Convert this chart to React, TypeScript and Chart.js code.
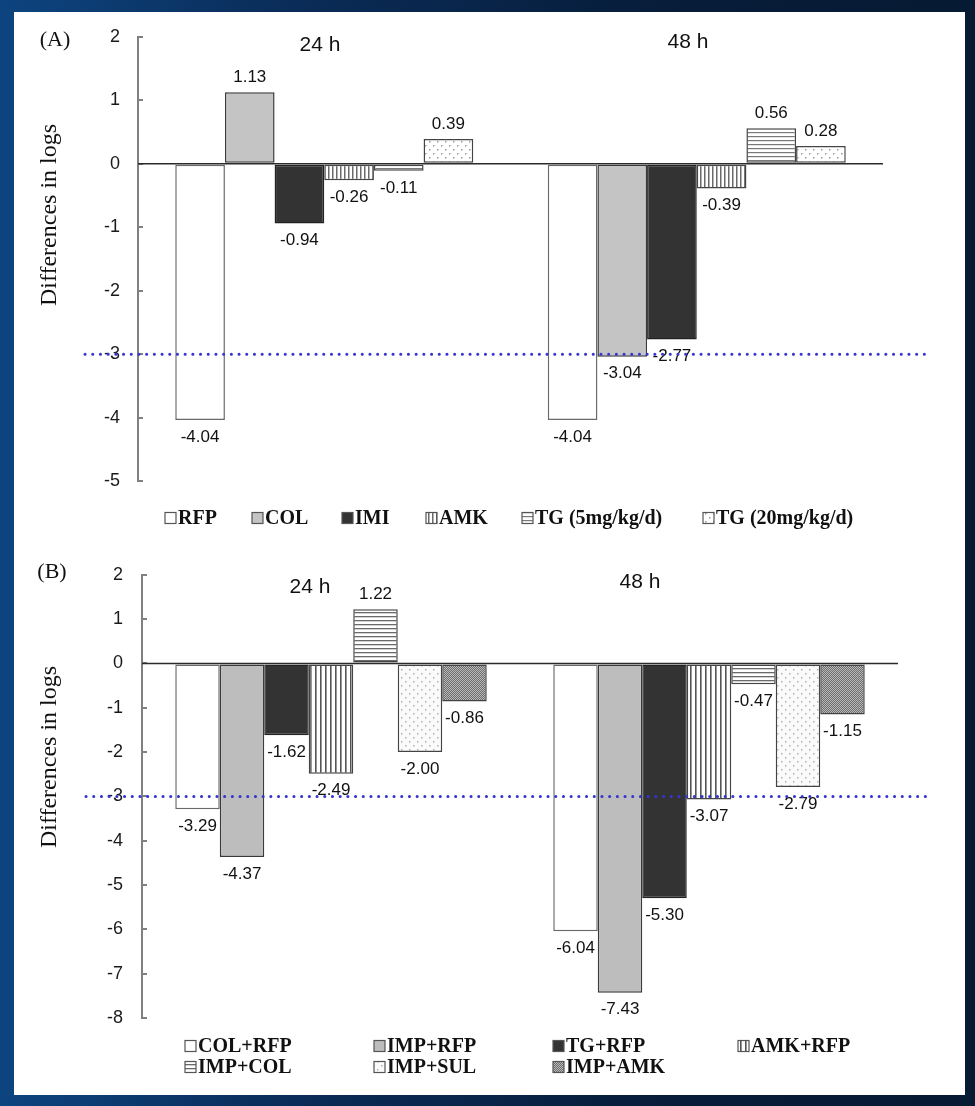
import React, { useEffect, useRef } from 'react';
import { Chart, registerables } from 'chart.js';
Chart.register(...registerables);

// ---------- data ----------
const HOURS = ['24 h', '48 h'];

// Panel A
const A_NAMES = ['RFP', 'COL', 'IMI', 'AMK', 'TG (5mg/kg/d)', 'TG (20mg/kg/d)'];
const A_RFP = [-4.04, -4.04];
const A_COL = [1.13, -3.04];
const A_IMI = [-0.94, -2.77];
const A_AMK = [-0.26, -0.39];
const A_TG5 = [-0.11, 0.56];
const A_TG20 = [0.39, 0.28];
const A_TICK_MIN = -5;
const A_TICK_MAX = 2;

// Panel B
const B_NAMES = ['COL+RFP', 'IMP+RFP', 'TG+RFP', 'AMK+RFP', 'IMP+COL', 'IMP+SUL', 'IMP+AMK'];
const B_COL_RFP = [-3.29, -6.04];
const B_IMP_RFP = [-4.37, -7.43];
const B_TG_RFP = [-1.62, -5.30];
const B_AMK_RFP = [-2.49, -3.07];
const B_IMP_COL = [1.22, -0.47];
const B_IMP_SUL = [-2.00, -2.79];
const B_IMP_AMK = [-0.86, -1.15];
const B_TICK_MIN = -8;
const B_TICK_MAX = 2;

const THRESHOLD = -3;

// ---------- patterns ----------
function makeTile(ctx: CanvasRenderingContext2D, w: number, h: number, draw: (g: CanvasRenderingContext2D) => void) {
  const c = document.createElement('canvas');
  c.width = w; c.height = h;
  const g = c.getContext('2d')!;
  draw(g);
  return ctx.createPattern(c, 'repeat')!;
}
function vStripes(ctx: CanvasRenderingContext2D, sp: number, lw: number, col: string, bg = '#ffffff') {
  return makeTile(ctx, sp, sp, g => { g.fillStyle = bg; g.fillRect(0, 0, sp, sp); g.fillStyle = col; g.fillRect(0, 0, lw, sp); });
}
function hStripes(ctx: CanvasRenderingContext2D, sp: number, lw: number, col: string, bg = '#ffffff') {
  return makeTile(ctx, sp, sp, g => { g.fillStyle = bg; g.fillRect(0, 0, sp, sp); g.fillStyle = col; g.fillRect(0, 0, sp, lw); });
}
function dots(ctx: CanvasRenderingContext2D, sp: number, col: string, bg = '#ffffff') {
  return makeTile(ctx, sp, sp, g => {
    g.fillStyle = bg; g.fillRect(0, 0, sp, sp);
    g.fillStyle = col;
    g.fillRect(1, 1, 1.5, 1.5);
    g.fillRect(sp / 2 + 1, sp / 2 + 1, 1.5, 1.5);
  });
}
function checker(ctx: CanvasRenderingContext2D, a: string, b: string) {
  return makeTile(ctx, 2, 2, g => { g.fillStyle = a; g.fillRect(0, 0, 2, 2); g.fillStyle = b; g.fillRect(0, 0, 1, 1); g.fillRect(1, 1, 1, 1); });
}

const SANS = '"Liberation Sans", Arial, sans-serif';
const SERIF = '"Liberation Serif", "Times New Roman", serif';

type PanelCfg = {
  letter: string;
  letterPos: [number, number];
  hourPos: [number, number][];
  titleCenter: [number, number];
  titleSize: number;
  legend: { x: number; y: number }[];
  dotted: [number, number];
  labelFont: number;
};

function decorPlugin(cfg: PanelCfg) {
  return {
    id: 'decor',
    afterDatasetsDraw(chart: any) {
      const { ctx, chartArea, scales } = chart;
      const y = scales.y;
      const y0 = y.getPixelForValue(0);
      ctx.save();
      ctx.strokeStyle = '#2b2b2b';
      ctx.lineWidth = 1.5;
      ctx.beginPath();
      ctx.moveTo(chartArea.left, y0);
      ctx.lineTo(chartArea.right, y0);
      ctx.stroke();
      // value labels
      ctx.font = `${cfg.labelFont}px ${SANS}`;
      ctx.fillStyle = '#111';
      ctx.textAlign = 'center';
      ctx.textBaseline = 'middle';
      chart.data.datasets.forEach((ds: any, di: number) => {
        const meta = chart.getDatasetMeta(di);
        meta.data.forEach((bar: any, i: number) => {
          const v = ds.data[i] as number;
          const ty = v < 0 ? bar.y + 17 : bar.y - 15;
          ctx.fillText(v.toFixed(2), bar.x, ty);
        });
      });
      ctx.restore();
    },
    afterDraw(chart: any) {
      const { ctx, scales } = chart;
      const y = scales.y;
      ctx.save();
      // threshold dotted line
      const yt = y.getPixelForValue(THRESHOLD);
      ctx.strokeStyle = '#3535d0';
      ctx.lineWidth = 3;
      ctx.lineCap = 'round';
      ctx.setLineDash([0.1, 7.6]);
      ctx.beginPath();
      ctx.moveTo(cfg.dotted[0], yt);
      ctx.lineTo(cfg.dotted[1], yt);
      ctx.stroke();
      ctx.setLineDash([]);
      // panel letter
      ctx.fillStyle = '#111';
      ctx.font = `22px ${SERIF}`;
      ctx.textAlign = 'center';
      ctx.textBaseline = 'middle';
      ctx.fillText(cfg.letter, cfg.letterPos[0], cfg.letterPos[1]);
      // hours
      ctx.font = `21px ${SANS}`;
      chart.data.labels.forEach((h: string, i: number) => {
        ctx.fillText(h, cfg.hourPos[i][0], cfg.hourPos[i][1]);
      });
      // y title
      ctx.save();
      ctx.translate(cfg.titleCenter[0], cfg.titleCenter[1]);
      ctx.rotate(-Math.PI / 2);
      ctx.font = `${cfg.titleSize}px ${SERIF}`;
      ctx.fillText('Differences in logs', 0, 0);
      ctx.restore();
      // legend
      ctx.font = `bold 20px ${SERIF}`;
      ctx.textAlign = 'left';
      chart.data.datasets.forEach((ds: any, di: number) => {
        const p = cfg.legend[di];
        ctx.fillStyle = ds.backgroundColor;
        ctx.fillRect(p.x, p.y - 5.5, 11, 11);
        ctx.strokeStyle = '#555';
        ctx.lineWidth = 1.2;
        ctx.strokeRect(p.x, p.y - 5.5, 11, 11);
        ctx.fillStyle = '#111';
        ctx.fillText(ds.label, p.x + 13, p.y + 1);
      });
      ctx.restore();
    },
  };
}

function build(
  canvas: HTMLCanvasElement,
  names: string[],
  series: number[][],
  fills: (string | CanvasPattern)[],
  borders: string[],
  min: number,
  max: number,
  area: { left: number; right: number; top: number; bottom: number },
  catPct: number,
  tickPad: number,
  cfg: PanelCfg,
) {
  const W = canvas.width, H = canvas.height;
  return new Chart(canvas, {
    type: 'bar',
    data: {
      labels: HOURS,
      datasets: series.map((vals, i) => ({
        label: names[i],
        data: vals,
        backgroundColor: fills[i] as any,
        borderColor: borders[i],
        borderWidth: 1.5,
        borderSkipped: false,
        categoryPercentage: catPct,
        barPercentage: 1,
      })),
    },
    options: {
      responsive: false,
      animation: false,
      devicePixelRatio: 1,
      layout: { padding: { left: 0, right: W - area.right, top: area.top, bottom: H - area.bottom } },
      plugins: { legend: { display: false }, tooltip: { enabled: false }, title: { display: false } },
      scales: {
        x: { display: false, offset: true, grid: { display: false } },
        y: {
          min,
          max,
          ticks: { stepSize: 1, padding: tickPad, color: '#1a1a1a', font: { family: SANS, size: 18 } },
          grid: { drawOnChartArea: false, drawTicks: true, tickLength: -5, color: '#808080', lineWidth: 2 },
          border: { display: true, color: '#808080', width: 2 },
          afterFit: (s: any) => { s.width = area.left; },
        },
      },
    },
    plugins: [decorPlugin(cfg)],
  } as any);
}

export default function App() {
  const refA = useRef<HTMLCanvasElement>(null);
  const refB = useRef<HTMLCanvasElement>(null);

  useEffect(() => {
    const ca = refA.current!, cb = refB.current!;
    const ctxA = ca.getContext('2d')!;
    const ctxB = cb.getContext('2d')!;

    const fillsA = [
      '#ffffff',
      '#c4c4c4',
      '#333333',
      vStripes(ctxA, 4, 1.5, '#6a6a6a'),
      hStripes(ctxA, 4, 1.2, '#7a7a7a'),
      dots(ctxA, 8, '#9a9a9a'),
    ];
    const fillsB = [
      '#ffffff',
      '#bdbdbd',
      '#333333',
      vStripes(ctxB, 5, 1.6, '#555555'),
      hStripes(ctxB, 4.5, 1.3, '#6a6a6a'),
      dots(ctxB, 8, '#b0b0b0', '#fbfbfb'),
      checker(ctxB, '#6e6e6e', '#b8b8b8'),
    ];

    const chartA = build(
      ca, A_NAMES,
      [A_RFP, A_COL, A_IMI, A_AMK, A_TG5, A_TG20],
      fillsA,
      ['#6a6a6a', '#3a3a3a', '#222', '#444', '#444', '#444'],
      A_TICK_MIN, A_TICK_MAX,
      { left: 138, right: 883, top: 37, bottom: 481 },
      0.8, 23,
      {
        letter: '(A)', letterPos: [55, 40],
        hourPos: [[320, 45], [688, 42]],
        titleCenter: [50, 215], titleSize: 24,
        legend: [
          { x: 165, y: 518 }, { x: 252, y: 518 }, { x: 342, y: 518 },
          { x: 426, y: 518 }, { x: 522, y: 518 }, { x: 703, y: 518 },
        ],
        dotted: [85, 928],
        labelFont: 17,
      },
    );

    const chartB = build(
      cb, B_NAMES,
      [B_COL_RFP, B_IMP_RFP, B_TG_RFP, B_AMK_RFP, B_IMP_COL, B_IMP_SUL, B_IMP_AMK],
      fillsB,
      ['#6a6a6a', '#3a3a3a', '#222', '#444', '#444', '#444', '#444'],
      B_TICK_MIN, B_TICK_MAX,
      { left: 142, right: 898, top: 32, bottom: 478 },
      0.824, 24,
      {
        letter: '(B)', letterPos: [52, 32],
        hourPos: [[310, 47], [640, 42]],
        titleCenter: [50, 217], titleSize: 24,
        legend: [
          { x: 185, y: 506 }, { x: 374, y: 506 }, { x: 553, y: 506 }, { x: 738, y: 506 },
          { x: 185, y: 527 }, { x: 374, y: 527 }, { x: 553, y: 527 },
        ],
        dotted: [86, 928],
        labelFont: 17,
      },
    );

    return () => { chartA.destroy(); chartB.destroy(); };
  }, []);

  return (
    <div
      style={{
        position: 'absolute', left: 0, top: 0, width: 975, height: 1106, overflow: 'hidden',
        background: 'linear-gradient(90deg, #0d447f 0%, #0a2c58 30%, #071c38 70%, #061a33 100%)',
      }}
    >
      <div style={{ position: 'absolute', left: 14, top: 12, width: 951, height: 1083, background: '#ffffff' }} />
      <canvas ref={refA} width={975} height={540} style={{ position: 'absolute', left: 0, top: 0 }} />
      <canvas ref={refB} width={975} height={566} style={{ position: 'absolute', left: 0, top: 540 }} />
    </div>
  );
}
